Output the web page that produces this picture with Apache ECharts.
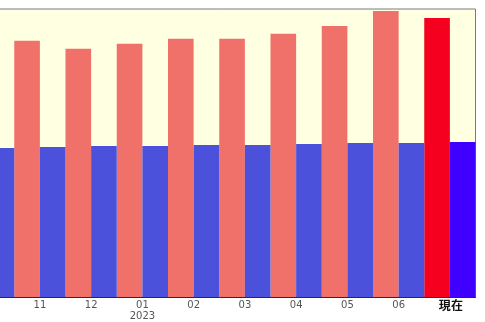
<!DOCTYPE html>
<html>
<head>
<meta charset="utf-8">
<script src="https://cdn.jsdelivr.net/npm/echarts@6/dist/echarts.min.js"></script>
<style>
  html, body { margin: 0; padding: 0; background: #ffffff; overflow: hidden; }
  #wrap { position: relative; width: 485px; height: 322px; overflow: hidden; }
  /* the oldest month is only half in view: the canvas starts left of the page */
  #chart { position: absolute; left: -37px; top: 0; width: 522px; height: 322px; }
</style>
</head>
<body>
<div id="wrap"><div id="chart"></div></div>
<script>
// Month labels along the bottom axis ("" = previous month, partly out of view)
const months = ['', '11', '12', '01', '02', '03', '04', '05', '06', '現在'];
// Upper (salmon / red) series
const upperValues = [0, 258, 250, 255, 260, 260, 265, 273, 288, 281];
// Lower (blue) series
const lowerValues = [150, 151, 152, 152, 153, 153, 154, 155, 155, 156];
const yearLabel = '2023';

const last = months.length - 1;

const chart = echarts.init(document.getElementById('chart'), null, { renderer: 'canvas' });

chart.setOption({
  animation: false,
  grid: {
    left: 0,
    right: 9.5,
    top: 9,
    bottom: 23,
    show: true,
    backgroundColor: '#ffffe1',
    borderColor: '#7a7a7a',
    borderWidth: 1
  },
  xAxis: {
    type: 'category',
    data: months,
    axisTick: { show: false },
    axisLine: { lineStyle: { color: '#2a2a3a', width: 1 } },
    axisLabel: {
      interval: 0,
      margin: 3,
      color: '#555',
      fontFamily: 'DejaVu Sans',
      fontSize: 10,
      lineHeight: 11,
      formatter: function (v) {
        if (v === '01') return '01\n' + yearLabel;
        if (v === '現在') return '{now|' + v + '}';
        return v;
      },
      rich: {
        now: { color: '#111', fontSize: 12, fontWeight: 'bold', fontFamily: 'Noto Sans CJK JP', padding: [0, 0, 0, 2] }
      }
    }
  },
  yAxis: {
    type: 'value',
    min: 0,
    max: 290,
    show: false,
    splitLine: { show: false }
  },
  series: [
    {
      type: 'bar',
      barGap: '0%',
      barCategoryGap: '0%',
      data: upperValues.map((v, i) => i === last
        ? { value: v, itemStyle: { color: '#f5001f' } }
        : v),
      itemStyle: { color: '#f0716a' }
    },
    {
      type: 'bar',
      barGap: '0%',
      barCategoryGap: '0%',
      data: lowerValues.map((v, i) => i === last
        ? { value: v, itemStyle: { color: '#3f00ff' } }
        : v),
      itemStyle: { color: '#4b51db' }
    }
  ]
});
</script>
</body>
</html>
